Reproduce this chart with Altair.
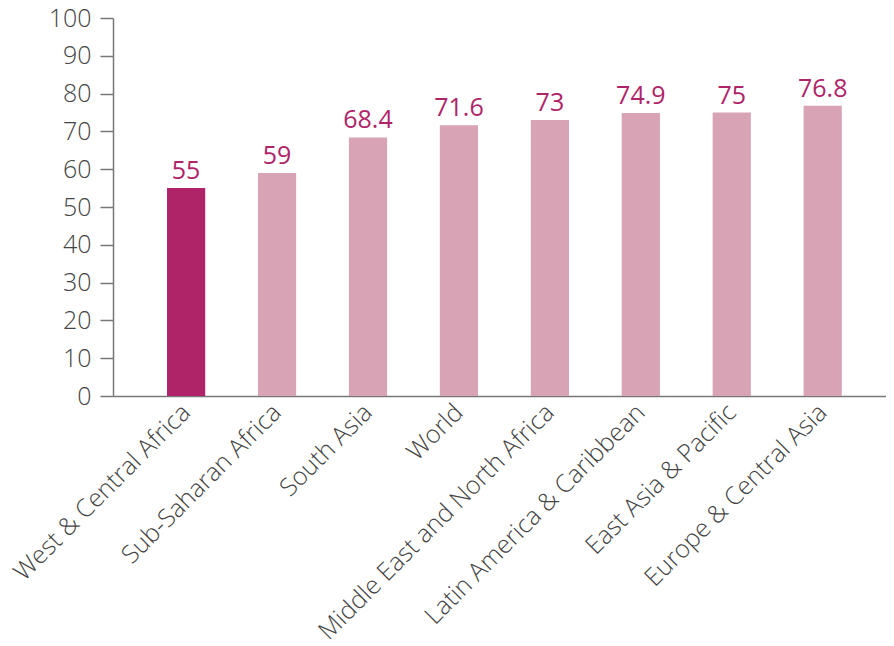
import altair as alt
import pandas as pd

regions = ["West & Central Africa", "Sub-Saharan Africa", "South Asia", "World",
           "Middle East and North Africa", "Latin America & Caribbean",
           "East Asia & Pacific", "Europe & Central Asia"]
values = [55, 59, 68.4, 71.6, 73, 74.9, 75, 76.8]
highlight = [True, False, False, False, False, False, False, False]
y_ticks = [0, 10, 20, 30, 40, 50, 60, 70, 80, 90, 100]

df = pd.DataFrame({"region": regions, "value": values, "hl": highlight})
df["label"] = [f"{v:g}" for v in values]

FONT = "Open Sans"

x = alt.X("region:N", sort=regions, title=None,
          scale=alt.Scale(paddingInner=0.58, paddingOuter=0.54, align=0.55),
          axis=alt.Axis(labelAngle=-45, labelAlign="right", labelBaseline="middle",
                        labelFontSize=25, labelColor="#444444", labelFont=FONT,
                        labelFontWeight=300, labelPadding=12, ticks=False,
                        domainColor="#777777", domainWidth=1.5, labelLimit=400,
                        labelOverlap=False))
y = alt.Y("value:Q", title=None,
          scale=alt.Scale(domain=[0, 100], nice=False),
          axis=alt.Axis(values=y_ticks, grid=False, tickSize=13,
                        tickColor="#777777", tickWidth=1.5, domainColor="#777777",
                        domainWidth=1.5, labelFontSize=25, labelColor="#444444",
                        labelFont=FONT, labelFontWeight=300, labelPadding=9,
                        labelOverlap=False, labelBound=False))

base = alt.Chart(df).encode(x=x, y=y)

bars = base.mark_bar().encode(
    color=alt.Color("hl:N", scale=alt.Scale(domain=[True, False], range=["#AF2469", "#D8A3B4"]),
                    legend=None),
)
text = base.mark_text(dy=-17, fontSize=25, color="#AF2469", font=FONT).encode(
    text="label:N",
)

chart = (bars + text).properties(
    width=773, height=378,
    autosize=alt.AutoSizeParams(type="none"),
    padding={"left": 105, "top": 10, "right": 0, "bottom": 250},
).configure_view(stroke=None)

chart.save("out.html", embed_options={"renderer": "svg", "actions": False})
